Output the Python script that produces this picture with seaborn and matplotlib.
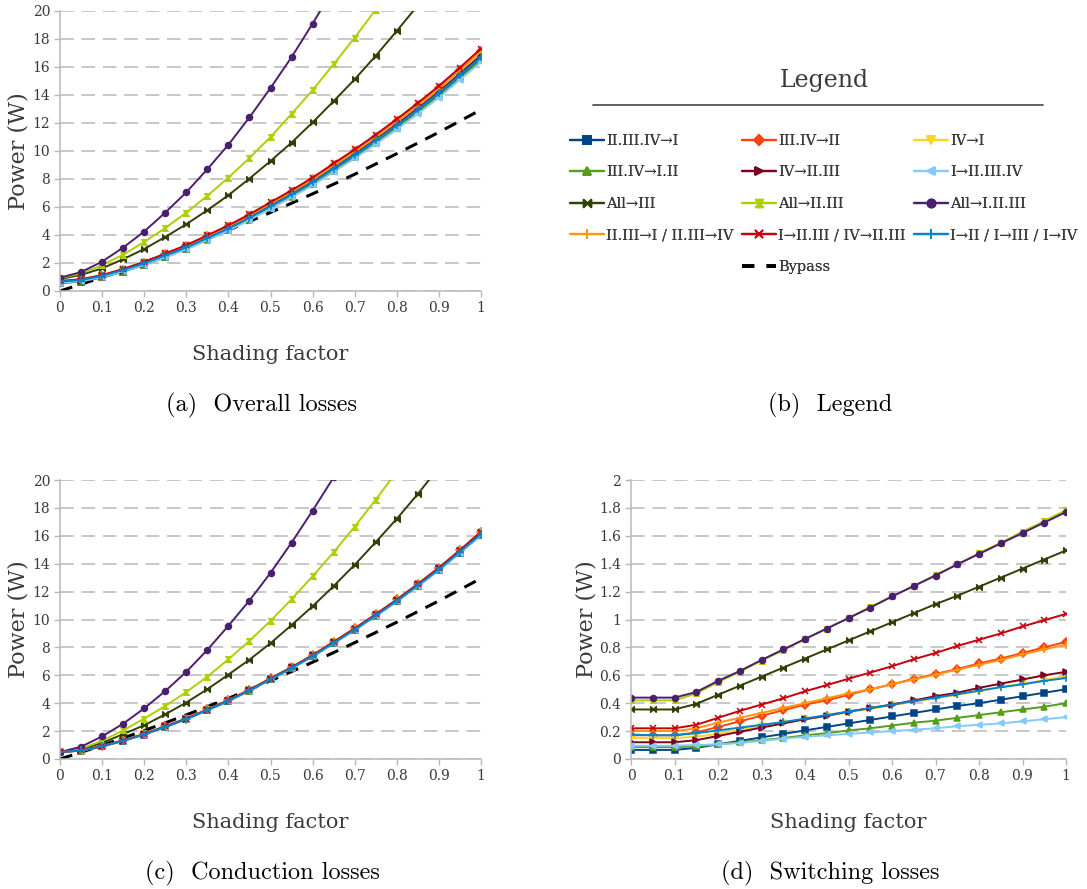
import matplotlib
matplotlib.use('Agg')
import matplotlib.pyplot as plt
from matplotlib.path import Path
from matplotlib.lines import Line2D
import numpy as np
import seaborn as sns

# ---- data ----
shading = [0, 0.05, 0.1, 0.15, 0.2, 0.25, 0.3, 0.35, 0.4, 0.45, 0.5,
           0.55, 0.6, 0.65, 0.7, 0.75, 0.8, 0.85, 0.9, 0.95, 1]

labels = ['II.III.IV→I', 'III.IV→II', 'IV→I',
          'III.IV→I.II', 'IV→II.III', 'I→II.III.IV',
          'All→III', 'All→II.III', 'All→I.II.III',
          'II.III→I / II.III→IV', 'I→II.III / IV→II.III', 'I→II / I→III / I→IV']

# overall losses (W)
overall = {
    'II.III.IV→I': [0.57, 0.67, 0.97, 1.38, 1.86, 2.43, 3.01, 3.68, 4.36, 5.13, 5.96, 6.78, 7.66, 8.63, 9.61, 10.63, 11.70, 12.83, 14.00, 15.28, 16.55],
    'III.IV→II': [0.67, 0.79, 1.10, 1.52, 2.02, 2.61, 3.21, 3.90, 4.60, 5.39, 6.24, 7.09, 7.99, 8.99, 9.98, 11.03, 12.13, 13.27, 14.48, 15.78, 17.14],
    'IV→I': [0.65, 0.76, 1.06, 1.47, 1.95, 2.53, 3.11, 3.78, 4.47, 5.24, 6.08, 6.91, 7.79, 8.77, 9.75, 10.78, 11.87, 13.00, 14.18, 15.47, 16.78],
    'III.IV→I.II': [0.59, 0.69, 0.99, 1.39, 1.87, 2.43, 3.00, 3.66, 4.33, 5.10, 5.92, 6.73, 7.61, 8.58, 9.55, 10.57, 11.64, 12.77, 13.94, 15.21, 16.49],
    'IV→II.III': [0.62, 0.73, 1.04, 1.46, 1.95, 2.53, 3.11, 3.79, 4.48, 5.25, 6.09, 6.93, 7.81, 8.79, 9.78, 10.82, 11.91, 13.05, 14.24, 15.53, 16.85],
    'I→II.III.IV': [0.60, 0.70, 1.00, 1.40, 1.86, 2.42, 2.98, 3.65, 4.31, 5.07, 5.88, 6.69, 7.55, 8.51, 9.47, 10.49, 11.55, 12.66, 13.82, 15.09, 16.35],
    'All→III': [0.86, 1.15, 1.62, 2.27, 3.00, 3.86, 4.77, 5.77, 6.84, 8.03, 9.28, 10.60, 12.04, 13.56, 15.12, 16.80, 18.58, 20.40, 22.30, 24.20, 26.20],
    'All→II.III': [0.92, 1.25, 1.85, 2.60, 3.50, 4.50, 5.60, 6.80, 8.10, 9.50, 11.00, 12.65, 14.35, 16.20, 18.10, 20.10, 22.20, 24.40, 26.70, 29.10, 31.60],
    'All→I.II.III': [0.95, 1.35, 2.10, 3.10, 4.25, 5.60, 7.05, 8.70, 10.45, 12.40, 14.50, 16.70, 19.10, 21.60, 24.30, 27.10, 30.10, 33.20, 36.50, 39.90, 43.50],
    'II.III→I / II.III→IV': [0.70, 0.82, 1.13, 1.55, 2.05, 2.64, 3.23, 3.92, 4.61, 5.40, 6.24, 7.08, 7.98, 8.97, 9.97, 11.01, 12.11, 13.25, 14.46, 15.76, 17.11],
    'I→II.III / IV→II.III': [0.72, 0.84, 1.14, 1.57, 2.08, 2.68, 3.28, 3.98, 4.69, 5.48, 6.34, 7.19, 8.10, 9.11, 10.11, 11.17, 12.28, 13.43, 14.65, 15.96, 17.32],
    'I→II / I→III / I→IV': [0.68, 0.78, 1.08, 1.50, 1.97, 2.54, 3.11, 3.78, 4.46, 5.24, 6.06, 6.90, 7.77, 8.75, 9.72, 10.76, 11.83, 12.97, 14.14, 15.42, 16.71],
}

# conduction losses (W)
conduction = {
    'II.III.IV→I': [0.50, 0.60, 0.90, 1.30, 1.75, 2.30, 2.85, 3.50, 4.15, 4.90, 5.70, 6.50, 7.35, 8.30, 9.25, 10.25, 11.30, 12.40, 13.55, 14.80, 16.05],
    'III.IV→II': [0.50, 0.62, 0.93, 1.33, 1.79, 2.34, 2.90, 3.55, 4.21, 4.97, 5.78, 6.59, 7.45, 8.41, 9.37, 10.38, 11.44, 12.55, 13.72, 14.98, 16.30],
    'IV→I': [0.50, 0.61, 0.91, 1.31, 1.77, 2.32, 2.87, 3.52, 4.18, 4.93, 5.74, 6.55, 7.40, 8.36, 9.31, 10.32, 11.38, 12.48, 13.64, 14.90, 16.18],
    'III.IV→I.II': [0.50, 0.60, 0.90, 1.30, 1.76, 2.31, 2.86, 3.51, 4.16, 4.91, 5.71, 6.51, 7.37, 8.32, 9.27, 10.27, 11.32, 12.43, 13.58, 14.83, 16.09],
    'IV→II.III': [0.50, 0.61, 0.92, 1.32, 1.78, 2.33, 2.88, 3.53, 4.19, 4.94, 5.75, 6.56, 7.42, 8.37, 9.33, 10.34, 11.40, 12.51, 13.67, 14.93, 16.22],
    'I→II.III.IV': [0.50, 0.60, 0.90, 1.30, 1.75, 2.30, 2.85, 3.50, 4.15, 4.90, 5.70, 6.50, 7.35, 8.30, 9.25, 10.25, 11.30, 12.40, 13.55, 14.80, 16.05],
    'All→III': [0.50, 0.70, 1.15, 1.78, 2.42, 3.20, 4.05, 5.00, 6.05, 7.12, 8.30, 9.60, 10.95, 12.40, 13.92, 15.55, 17.22, 19.00, 20.90, 22.85, 24.90],
    'All→II.III': [0.50, 0.75, 1.30, 2.05, 2.90, 3.80, 4.80, 5.90, 7.15, 8.47, 9.90, 11.45, 13.10, 14.82, 16.66, 18.60, 20.60, 22.70, 24.90, 27.20, 29.60],
    'All→I.II.III': [0.50, 0.88, 1.62, 2.53, 3.63, 4.87, 6.25, 7.82, 9.55, 11.36, 13.34, 15.51, 17.80, 20.20, 22.70, 25.30, 28.00, 30.80, 33.70, 36.70, 39.80],
    'II.III→I / II.III→IV': [0.50, 0.62, 0.93, 1.33, 1.79, 2.34, 2.90, 3.55, 4.21, 4.96, 5.77, 6.58, 7.44, 8.40, 9.36, 10.37, 11.43, 12.54, 13.71, 14.97, 16.29],
    'I→II.III / IV→II.III': [0.50, 0.62, 0.92, 1.32, 1.78, 2.33, 2.89, 3.54, 4.20, 4.95, 5.76, 6.57, 7.43, 8.39, 9.35, 10.36, 11.42, 12.53, 13.70, 14.96, 16.28],
    'I→II / I→III / I→IV': [0.50, 0.61, 0.91, 1.31, 1.76, 2.31, 2.86, 3.51, 4.17, 4.92, 5.72, 6.53, 7.38, 8.33, 9.28, 10.29, 11.34, 12.45, 13.60, 14.86, 16.13],
}

# switching losses (W)
switching = {
    'II.III.IV→I': [0.065, 0.065, 0.065, 0.08, 0.105, 0.13, 0.155, 0.18, 0.205, 0.23, 0.255, 0.28, 0.305, 0.33, 0.355, 0.38, 0.40, 0.425, 0.45, 0.475, 0.50],
    'III.IV→II': [0.17, 0.17, 0.17, 0.19, 0.23, 0.27, 0.31, 0.35, 0.39, 0.42, 0.46, 0.50, 0.535, 0.575, 0.61, 0.645, 0.685, 0.72, 0.76, 0.80, 0.84],
    'IV→I': [0.15, 0.15, 0.15, 0.16, 0.18, 0.21, 0.235, 0.26, 0.285, 0.31, 0.335, 0.36, 0.385, 0.41, 0.435, 0.46, 0.485, 0.515, 0.54, 0.565, 0.595],
    'III.IV→I.II': [0.085, 0.085, 0.085, 0.09, 0.105, 0.12, 0.135, 0.15, 0.17, 0.185, 0.205, 0.22, 0.24, 0.26, 0.275, 0.295, 0.315, 0.335, 0.355, 0.375, 0.40],
    'IV→II.III': [0.12, 0.12, 0.12, 0.135, 0.165, 0.195, 0.225, 0.255, 0.285, 0.31, 0.34, 0.365, 0.39, 0.42, 0.45, 0.475, 0.51, 0.54, 0.57, 0.60, 0.625],
    'I→II.III.IV': [0.095, 0.095, 0.095, 0.10, 0.105, 0.115, 0.13, 0.145, 0.16, 0.17, 0.18, 0.19, 0.20, 0.21, 0.22, 0.235, 0.245, 0.255, 0.27, 0.285, 0.30],
    'All→III': [0.355, 0.355, 0.355, 0.395, 0.46, 0.525, 0.59, 0.655, 0.72, 0.785, 0.85, 0.915, 0.98, 1.045, 1.11, 1.17, 1.235, 1.30, 1.365, 1.43, 1.495],
    'All→II.III': [0.42, 0.42, 0.42, 0.47, 0.55, 0.625, 0.705, 0.78, 0.86, 0.935, 1.01, 1.09, 1.165, 1.24, 1.32, 1.395, 1.475, 1.55, 1.63, 1.705, 1.785],
    'All→I.II.III': [0.44, 0.44, 0.44, 0.48, 0.56, 0.63, 0.71, 0.785, 0.86, 0.935, 1.01, 1.085, 1.165, 1.24, 1.315, 1.395, 1.47, 1.545, 1.62, 1.695, 1.77],
    'II.III→I / II.III→IV': [0.20, 0.20, 0.20, 0.22, 0.26, 0.295, 0.33, 0.365, 0.40, 0.435, 0.47, 0.50, 0.535, 0.57, 0.605, 0.64, 0.675, 0.71, 0.75, 0.785, 0.82],
    'I→II.III / IV→II.III': [0.22, 0.22, 0.22, 0.245, 0.295, 0.345, 0.39, 0.435, 0.485, 0.53, 0.575, 0.62, 0.665, 0.715, 0.76, 0.81, 0.855, 0.90, 0.95, 0.995, 1.04],
    'I→II / I→III / I→IV': [0.175, 0.17, 0.17, 0.185, 0.205, 0.225, 0.245, 0.265, 0.29, 0.315, 0.34, 0.365, 0.39, 0.415, 0.44, 0.465, 0.49, 0.515, 0.535, 0.56, 0.58],
}

# bypass diode losses (W), same in overall and conduction panels
bypass = [0.00, 0.48, 0.98, 1.50, 2.04, 2.59, 3.16, 3.75, 4.35, 4.97, 5.61,
          6.27, 6.94, 7.63, 8.34, 9.07, 9.81, 10.57, 11.34, 12.14, 12.95]

# ---- styles ----
colors = ['#004586', '#ff420e', '#ffd320', '#579d1c', '#7e0021', '#83caff',
          '#314004', '#aecf00', '#4b1f6f', '#ff950e', '#c5000b', '#0084d1']

bowtie = Path([(-1, 1), (-1, -1), (1, 1), (1, -1), (-1, 1)],
              [Path.MOVETO, Path.LINETO, Path.LINETO, Path.LINETO, Path.CLOSEPOLY])
hourglass = Path([(-1, 1), (1, 1), (-1, -1), (1, -1), (-1, 1)],
                 [Path.MOVETO, Path.LINETO, Path.LINETO, Path.LINETO, Path.CLOSEPOLY])
markers = ['s', 'D', 'v', '^', '>', '<', bowtie, hourglass, 'o', '+', 'x', '+']
msizes = [4.3, 3.6, 4.6, 4.6, 4.6, 4.6, 4.0, 4.0, 4.3, 6, 4.6, 6]

sns.set_theme(style='white')
SERIF = ['DejaVu Serif', 'DejaVu Sans']
plt.rcParams['font.family'] = SERIF
plt.rcParams['axes.unicode_minus'] = False

W, H = 1087, 889
fig = plt.figure(figsize=(W / 100, H / 100), dpi=100)

def px_axes(left, right, top, bottom):
    return fig.add_axes([left / W, 1 - bottom / H, (right - left) / W, (bottom - top) / H])

ax_a = px_axes(60, 481, 11, 291)
ax_c = px_axes(60, 481, 480, 759)
ax_d = px_axes(631, 1066, 480, 759)
ax_leg = px_axes(550, 1087, 0, 330)

TXT = '#3a3a3a'
GRID = '#b8b8b8'

def draw(ax, data, ymax, ystep, ylab_x, with_bypass=True):
    if with_bypass:
        # drawn first so the loss curves sit on top of it
        sns.lineplot(x=shading, y=bypass, ax=ax, color='black', linewidth=2.2,
                     legend=False, zorder=1.9)
        ax.lines[-1].set_dashes((4.2, 3.0))
    for lab, col, mk, ms in zip(labels, colors, markers, msizes):
        sns.lineplot(x=shading, y=data[lab], ax=ax, color=col, marker=mk,
                     markersize=ms, markeredgecolor=col, markerfacecolor=col,
                     markeredgewidth=1.1, linewidth=1.4, legend=False)
    ax.set_xlim(0, 1)
    ax.set_ylim(0, ymax)
    xt = np.round(np.arange(0, 1.01, 0.1), 2)
    yt = np.round(np.arange(0, ymax + ystep / 2, ystep), 2)
    ax.set_xticks(xt)
    ax.set_yticks(yt)
    ax.set_xticklabels([f'{v:g}' for v in xt], fontfamily=SERIF)
    ax.set_yticklabels([f'{v:g}' for v in yt], fontfamily=SERIF)
    ax.yaxis.grid(True, color=GRID, linestyle=(0, (9, 5)), linewidth=1.1)
    ax.set_axisbelow(True)
    for s in ['top', 'right']:
        ax.spines[s].set_visible(False)
    for s in ['left', 'bottom']:
        ax.spines[s].set_color(GRID)
        ax.spines[s].set_linewidth(1.1)
    ax.tick_params(axis='both', which='both', direction='out', length=4, width=1,
                   color=GRID, labelsize=10, labelcolor=TXT, pad=3, bottom=True, left=True)
    ax.set_xlabel('Shading factor', fontsize=15, color=TXT, labelpad=22)
    ax.set_ylabel('Power (W)', fontsize=16, color=TXT)
    ax.yaxis.set_label_coords(ylab_x, 0.5)

draw(ax_a, overall, 20, 2, -0.072)
draw(ax_c, conduction, 20, 2, -0.072)
draw(ax_d, switching, 2, 0.2, -0.077, with_bypass=False)

# ---- legend panel ----
ax_leg.axis('off')
ax_leg.set_xlim(550, 1087)
ax_leg.set_ylim(330, 0)
ax_leg.text(824, 80, 'Legend', fontsize=17, color=TXT, ha='center', va='center')
ax_leg.plot([593, 1043], [105, 105], color='#555555', linewidth=1.3)

handles = []
for lab, col, mk, ms in zip(labels, colors, markers, msizes):
    handles.append(Line2D([], [], color=col, marker=mk, markersize=ms + 1.5,
                          markeredgecolor=col, markerfacecolor=col,
                          markeredgewidth=1.3, linewidth=1.6, label=lab))
bp = Line2D([], [], color='black', linewidth=2.6, dashes=(3.4, 3.4), label='Bypass')

columns = [([0, 3, 6, 9], 570), ([1, 4, 7, 10], 742), ([2, 5, 8, 11], 914)]
for idx, x0 in columns:
    hs = [handles[i] for i in idx]
    if x0 == 742:
        hs = hs + [bp]
    leg = fig.legend(handles=hs, loc='upper left',
                     bbox_to_anchor=(x0 / W, 1 - 134 / H), frameon=False,
                     fontsize=10.5, labelcolor=TXT, handlelength=2.3,
                     handletextpad=0.2, borderpad=0, borderaxespad=0,
                     labelspacing=1.2)
    fig.add_artist(leg)

# ---- captions ----
cap = dict(fontsize=17.5, ha='center', va='center', color='black',
           family=['cmr10', 'DejaVu Serif'])
fig.text(262 / W, 1 - 405 / H, '(a)  Overall losses', **cap)
fig.text(830 / W, 1 - 405 / H, '(b)  Legend', **cap)
fig.text(262 / W, 1 - 873 / H, '(c)  Conduction losses', **cap)
fig.text(830 / W, 1 - 873 / H, '(d)  Switching losses', **cap)

fig.savefig('out.png', dpi=100, facecolor='white')
